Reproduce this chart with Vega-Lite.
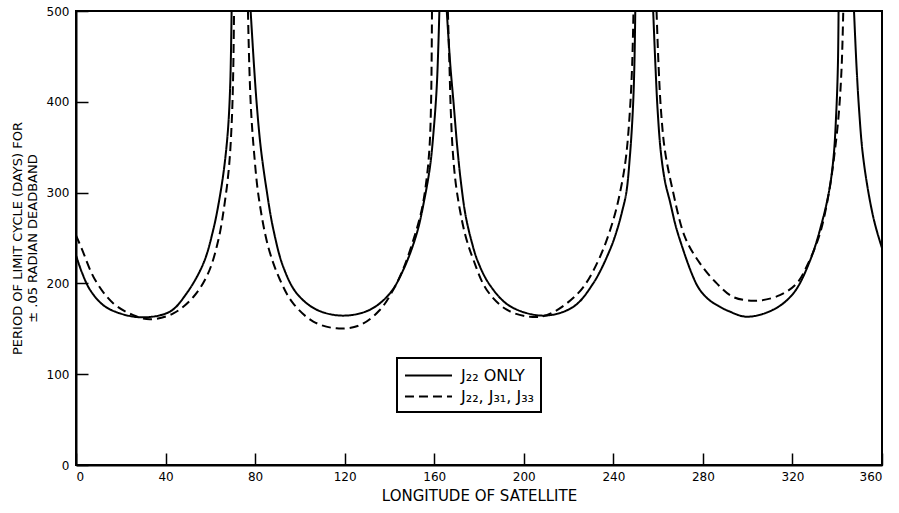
{
  "$schema": "https://vega.github.io/schema/vega-lite/v6.json",
  "width": 806,
  "height": 454,
  "autosize": {"type": "none"},
  "padding": {"left": 76, "top": 11, "right": 17, "bottom": 48},
  "background": "white",
  "config": {
    "view": {"stroke": "black", "strokeWidth": 2},
    "font": "DejaVu Sans",
    "axis": {"grid": false, "domainColor": "black", "domainWidth": 2, "tickColor": "black", "tickWidth": 1.5, "labelColor": "black", "titleColor": "black", "labelFont": "DejaVu Sans", "titleFont": "DejaVu Sans", "titleFontWeight": "normal", "labelFontSize": 12, "titleFontSize": 12}
  },
  "data": {"values": [
    {"x":0,"y":231,"s":"J₂₂ ONLY","g":"S1"},{"x":2.5,"y":213,"s":"J₂₂ ONLY","g":"S1"},{"x":6.25,"y":193,"s":"J₂₂ ONLY","g":"S1"},{"x":12.2,"y":176,"s":"J₂₂ ONLY","g":"S1"},{"x":19.6,"y":167,"s":"J₂₂ ONLY","g":"S1"},{"x":30,"y":162.6,"s":"J₂₂ ONLY","g":"S1"},{"x":42,"y":169,"s":"J₂₂ ONLY","g":"S1"},{"x":49.4,"y":189,"s":"J₂₂ ONLY","g":"S1"},{"x":56.9,"y":222,"s":"J₂₂ ONLY","g":"S1"},{"x":61.3,"y":259,"s":"J₂₂ ONLY","g":"S1"},{"x":64.2,"y":295,"s":"J₂₂ ONLY","g":"S1"},{"x":66.3,"y":330,"s":"J₂₂ ONLY","g":"S1"},{"x":67.9,"y":370,"s":"J₂₂ ONLY","g":"S1"},{"x":68.9,"y":420,"s":"J₂₂ ONLY","g":"S1"},{"x":69.5,"y":500,"s":"J₂₂ ONLY","g":"S1"},
    {"x":78,"y":500,"s":"J₂₂ ONLY","g":"S2"},{"x":79.5,"y":440,"s":"J₂₂ ONLY","g":"S2"},{"x":80.8,"y":395,"s":"J₂₂ ONLY","g":"S2"},{"x":82.5,"y":350,"s":"J₂₂ ONLY","g":"S2"},{"x":85,"y":305,"s":"J₂₂ ONLY","g":"S2"},{"x":88.1,"y":260,"s":"J₂₂ ONLY","g":"S2"},{"x":92.6,"y":218,"s":"J₂₂ ONLY","g":"S2"},{"x":98.6,"y":189,"s":"J₂₂ ONLY","g":"S2"},{"x":107.5,"y":171,"s":"J₂₂ ONLY","g":"S2"},{"x":119.4,"y":164.5,"s":"J₂₂ ONLY","g":"S2"},{"x":131.3,"y":171,"s":"J₂₂ ONLY","g":"S2"},{"x":140.2,"y":189,"s":"J₂₂ ONLY","g":"S2"},{"x":146.2,"y":215,"s":"J₂₂ ONLY","g":"S2"},{"x":152.2,"y":255,"s":"J₂₂ ONLY","g":"S2"},{"x":155.8,"y":295,"s":"J₂₂ ONLY","g":"S2"},{"x":158.2,"y":330,"s":"J₂₂ ONLY","g":"S2"},{"x":159.8,"y":370,"s":"J₂₂ ONLY","g":"S2"},{"x":161.2,"y":420,"s":"J₂₂ ONLY","g":"S2"},{"x":162.3,"y":500,"s":"J₂₂ ONLY","g":"S2"},
    {"x":165.6,"y":500,"s":"J₂₂ ONLY","g":"S3"},{"x":167.2,"y":440,"s":"J₂₂ ONLY","g":"S3"},{"x":168.6,"y":400,"s":"J₂₂ ONLY","g":"S3"},{"x":170.3,"y":350,"s":"J₂₂ ONLY","g":"S3"},{"x":172,"y":310,"s":"J₂₂ ONLY","g":"S3"},{"x":174,"y":275,"s":"J₂₂ ONLY","g":"S3"},{"x":176.5,"y":248,"s":"J₂₂ ONLY","g":"S3"},{"x":179.5,"y":224,"s":"J₂₂ ONLY","g":"S3"},{"x":184.9,"y":198,"s":"J₂₂ ONLY","g":"S3"},{"x":193.8,"y":175,"s":"J₂₂ ONLY","g":"S3"},{"x":208.7,"y":164.5,"s":"J₂₂ ONLY","g":"S3"},{"x":222,"y":174,"s":"J₂₂ ONLY","g":"S3"},{"x":231,"y":200,"s":"J₂₂ ONLY","g":"S3"},{"x":238.5,"y":237,"s":"J₂₂ ONLY","g":"S3"},{"x":241.8,"y":260,"s":"J₂₂ ONLY","g":"S3"},{"x":244,"y":280,"s":"J₂₂ ONLY","g":"S3"},{"x":245.8,"y":300,"s":"J₂₂ ONLY","g":"S3"},{"x":247.4,"y":340,"s":"J₂₂ ONLY","g":"S3"},{"x":248.7,"y":390,"s":"J₂₂ ONLY","g":"S3"},{"x":249.4,"y":440,"s":"J₂₂ ONLY","g":"S3"},{"x":249.8,"y":500,"s":"J₂₂ ONLY","g":"S3"},
    {"x":257.8,"y":500,"s":"J₂₂ ONLY","g":"S4"},{"x":258.8,"y":440,"s":"J₂₂ ONLY","g":"S4"},{"x":259.8,"y":390,"s":"J₂₂ ONLY","g":"S4"},{"x":261.2,"y":345,"s":"J₂₂ ONLY","g":"S4"},{"x":263.1,"y":312,"s":"J₂₂ ONLY","g":"S4"},{"x":265.3,"y":290,"s":"J₂₂ ONLY","g":"S4"},{"x":268,"y":262,"s":"J₂₂ ONLY","g":"S4"},{"x":271.2,"y":237,"s":"J₂₂ ONLY","g":"S4"},{"x":273.3,"y":222,"s":"J₂₂ ONLY","g":"S4"},{"x":275.5,"y":208,"s":"J₂₂ ONLY","g":"S4"},{"x":277.6,"y":197,"s":"J₂₂ ONLY","g":"S4"},{"x":280.2,"y":188,"s":"J₂₂ ONLY","g":"S4"},{"x":283.2,"y":181,"s":"J₂₂ ONLY","g":"S4"},{"x":286.7,"y":175.5,"s":"J₂₂ ONLY","g":"S4"},{"x":291.5,"y":169.5,"s":"J₂₂ ONLY","g":"S4"},{"x":299.6,"y":163.3,"s":"J₂₂ ONLY","g":"S4"},{"x":311.4,"y":171,"s":"J₂₂ ONLY","g":"S4"},{"x":320.4,"y":189,"s":"J₂₂ ONLY","g":"S4"},{"x":328,"y":226,"s":"J₂₂ ONLY","g":"S4"},{"x":333.8,"y":273,"s":"J₂₂ ONLY","g":"S4"},{"x":336.6,"y":305,"s":"J₂₂ ONLY","g":"S4"},{"x":338.4,"y":340,"s":"J₂₂ ONLY","g":"S4"},{"x":339.6,"y":390,"s":"J₂₂ ONLY","g":"S4"},{"x":340.3,"y":440,"s":"J₂₂ ONLY","g":"S4"},{"x":340.6,"y":500,"s":"J₂₂ ONLY","g":"S4"},
    {"x":347.5,"y":500,"s":"J₂₂ ONLY","g":"S5"},{"x":348.6,"y":440,"s":"J₂₂ ONLY","g":"S5"},{"x":349.8,"y":390,"s":"J₂₂ ONLY","g":"S5"},{"x":351.3,"y":345,"s":"J₂₂ ONLY","g":"S5"},{"x":353.6,"y":305,"s":"J₂₂ ONLY","g":"S5"},{"x":356.1,"y":273,"s":"J₂₂ ONLY","g":"S5"},{"x":358,"y":255,"s":"J₂₂ ONLY","g":"S5"},{"x":360,"y":239,"s":"J₂₂ ONLY","g":"S5"},
    {"x":0,"y":253,"s":"J₂₂, J₃₁, J₃₃","g":"D1"},{"x":2.5,"y":238.6,"s":"J₂₂, J₃₁, J₃₃","g":"D1"},{"x":8.5,"y":204,"s":"J₂₂, J₃₁, J₃₃","g":"D1"},{"x":16.7,"y":178,"s":"J₂₂, J₃₁, J₃₃","g":"D1"},{"x":25.6,"y":165,"s":"J₂₂, J₃₁, J₃₃","g":"D1"},{"x":33,"y":160.4,"s":"J₂₂, J₃₁, J₃₃","g":"D1"},{"x":43.5,"y":167,"s":"J₂₂, J₃₁, J₃₃","g":"D1"},{"x":52.4,"y":185,"s":"J₂₂, J₃₁, J₃₃","g":"D1"},{"x":59,"y":211,"s":"J₂₂, J₃₁, J₃₃","g":"D1"},{"x":63.6,"y":248,"s":"J₂₂, J₃₁, J₃₃","g":"D1"},{"x":66.5,"y":290,"s":"J₂₂, J₃₁, J₃₃","g":"D1"},{"x":68.4,"y":330,"s":"J₂₂, J₃₁, J₃₃","g":"D1"},{"x":69.6,"y":380,"s":"J₂₂, J₃₁, J₃₃","g":"D1"},{"x":70.2,"y":430,"s":"J₂₂, J₃₁, J₃₃","g":"D1"},{"x":70.6,"y":500,"s":"J₂₂, J₃₁, J₃₃","g":"D1"},
    {"x":76.8,"y":500,"s":"J₂₂, J₃₁, J₃₃","g":"D2"},{"x":77.4,"y":440,"s":"J₂₂, J₃₁, J₃₃","g":"D2"},{"x":78.2,"y":390,"s":"J₂₂, J₃₁, J₃₃","g":"D2"},{"x":79.5,"y":345,"s":"J₂₂, J₃₁, J₃₃","g":"D2"},{"x":81.6,"y":295,"s":"J₂₂, J₃₁, J₃₃","g":"D2"},{"x":85.9,"y":240,"s":"J₂₂, J₃₁, J₃₃","g":"D2"},{"x":91.1,"y":204,"s":"J₂₂, J₃₁, J₃₃","g":"D2"},{"x":97,"y":178,"s":"J₂₂, J₃₁, J₃₃","g":"D2"},{"x":106,"y":158,"s":"J₂₂, J₃₁, J₃₃","g":"D2"},{"x":116.4,"y":150.5,"s":"J₂₂, J₃₁, J₃₃","g":"D2"},{"x":126.8,"y":154,"s":"J₂₂, J₃₁, J₃₃","g":"D2"},{"x":135.8,"y":171,"s":"J₂₂, J₃₁, J₃₃","g":"D2"},{"x":141.7,"y":193,"s":"J₂₂, J₃₁, J₃₃","g":"D2"},{"x":146,"y":215,"s":"J₂₂, J₃₁, J₃₃","g":"D2"},{"x":150.7,"y":248,"s":"J₂₂, J₃₁, J₃₃","g":"D2"},{"x":154.4,"y":281,"s":"J₂₂, J₃₁, J₃₃","g":"D2"},{"x":156.6,"y":315,"s":"J₂₂, J₃₁, J₃₃","g":"D2"},{"x":157.9,"y":350,"s":"J₂₂, J₃₁, J₃₃","g":"D2"},{"x":158.6,"y":400,"s":"J₂₂, J₃₁, J₃₃","g":"D2"},{"x":159,"y":500,"s":"J₂₂, J₃₁, J₃₃","g":"D2"},
    {"x":166.1,"y":500,"s":"J₂₂, J₃₁, J₃₃","g":"D3"},{"x":166.8,"y":440,"s":"J₂₂, J₃₁, J₃₃","g":"D3"},{"x":167.4,"y":390,"s":"J₂₂, J₃₁, J₃₃","g":"D3"},{"x":168.3,"y":345,"s":"J₂₂, J₃₁, J₃₃","g":"D3"},{"x":170,"y":303,"s":"J₂₂, J₃₁, J₃₃","g":"D3"},{"x":173.7,"y":255,"s":"J₂₂, J₃₁, J₃₃","g":"D3"},{"x":177.5,"y":226,"s":"J₂₂, J₃₁, J₃₃","g":"D3"},{"x":183.4,"y":193,"s":"J₂₂, J₃₁, J₃₃","g":"D3"},{"x":192.4,"y":171,"s":"J₂₂, J₃₁, J₃₃","g":"D3"},{"x":202.8,"y":163.3,"s":"J₂₂, J₃₁, J₃₃","g":"D3"},{"x":210.2,"y":165,"s":"J₂₂, J₃₁, J₃₃","g":"D3"},{"x":219.2,"y":178,"s":"J₂₂, J₃₁, J₃₃","g":"D3"},{"x":226.6,"y":196,"s":"J₂₂, J₃₁, J₃₃","g":"D3"},{"x":234,"y":229,"s":"J₂₂, J₃₁, J₃₃","g":"D3"},{"x":240,"y":270,"s":"J₂₂, J₃₁, J₃₃","g":"D3"},{"x":243.4,"y":305,"s":"J₂₂, J₃₁, J₃₃","g":"D3"},{"x":245.7,"y":340,"s":"J₂₂, J₃₁, J₃₃","g":"D3"},{"x":247.4,"y":390,"s":"J₂₂, J₃₁, J₃₃","g":"D3"},{"x":248.4,"y":440,"s":"J₂₂, J₃₁, J₃₃","g":"D3"},{"x":249,"y":500,"s":"J₂₂, J₃₁, J₃₃","g":"D3"},
    {"x":259.3,"y":500,"s":"J₂₂, J₃₁, J₃₃","g":"D4"},{"x":260.2,"y":440,"s":"J₂₂, J₃₁, J₃₃","g":"D4"},{"x":261.3,"y":390,"s":"J₂₂, J₃₁, J₃₃","g":"D4"},{"x":263,"y":347,"s":"J₂₂, J₃₁, J₃₃","g":"D4"},{"x":266.3,"y":305,"s":"J₂₂, J₃₁, J₃₃","g":"D4"},{"x":272,"y":251,"s":"J₂₂, J₃₁, J₃₃","g":"D4"},{"x":278.7,"y":222,"s":"J₂₂, J₃₁, J₃₃","g":"D4"},{"x":286.2,"y":200,"s":"J₂₂, J₃₁, J₃₃","g":"D4"},{"x":293.6,"y":185,"s":"J₂₂, J₃₁, J₃₃","g":"D4"},{"x":304,"y":181,"s":"J₂₂, J₃₁, J₃₃","g":"D4"},{"x":314.4,"y":187,"s":"J₂₂, J₃₁, J₃₃","g":"D4"},{"x":321.9,"y":200,"s":"J₂₂, J₃₁, J₃₃","g":"D4"},{"x":327,"y":222,"s":"J₂₂, J₃₁, J₃₃","g":"D4"},{"x":332.3,"y":255,"s":"J₂₂, J₃₁, J₃₃","g":"D4"},{"x":336.3,"y":300,"s":"J₂₂, J₃₁, J₃₃","g":"D4"},{"x":338.9,"y":345,"s":"J₂₂, J₃₁, J₃₃","g":"D4"},{"x":340.8,"y":390,"s":"J₂₂, J₃₁, J₃₃","g":"D4"},{"x":342,"y":440,"s":"J₂₂, J₃₁, J₃₃","g":"D4"},{"x":342.7,"y":500,"s":"J₂₂, J₃₁, J₃₃","g":"D4"}
  ]},
  "mark": {"type": "line", "color": "black", "strokeWidth": 2, "interpolate": "catmull-rom", "clip": true},
  "encoding": {
    "x": {"field": "x", "type": "quantitative", "scale": {"domain": [0, 360], "nice": false, "zero": false},
      "axis": {"values": [0, 40, 80, 120, 160, 200, 240, 280, 320, 360], "tickSize": -12, "labelPadding": 18, "labelFontSize": 12, "title": "LONGITUDE OF SATELLITE", "titleFontSize": 15, "titlePadding": 6}},
    "y": {"field": "y", "type": "quantitative", "scale": {"domain": [0, 500], "nice": false},
      "axis": {"values": [0, 100, 200, 300, 400, 500], "tickSize": -12, "labelPadding": 19, "title": ["PERIOD OF LIMIT CYCLE (DAYS) FOR", "± .05 RADIAN DEADBAND"], "titleFontSize": 13, "titlePadding": 7}},
    "detail": {"field": "g"},
    "strokeDash": {"field": "s", "type": "nominal",
      "scale": {"domain": ["J₂₂ ONLY", "J₂₂, J₃₁, J₃₃"], "range": [[1, 0], [9, 5]]},
      "legend": {"title": null, "orient": "none", "legendX": 321, "legendY": 347, "strokeColor": "black", "fillColor": "white", "padding": 7, "symbolType": "M-2.5,0L2.5,0", "symbolSize": 354, "symbolOffset": 14, "symbolStrokeWidth": 2, "symbolStrokeColor": "black", "labelFontSize": 16, "labelColor": "black", "labelFont": "DejaVu Sans", "labelOffset": 22, "rowPadding": 2,
        "encode": {"legend": {"update": {"strokeWidth": {"value": 2}}}}}}
  }
}
